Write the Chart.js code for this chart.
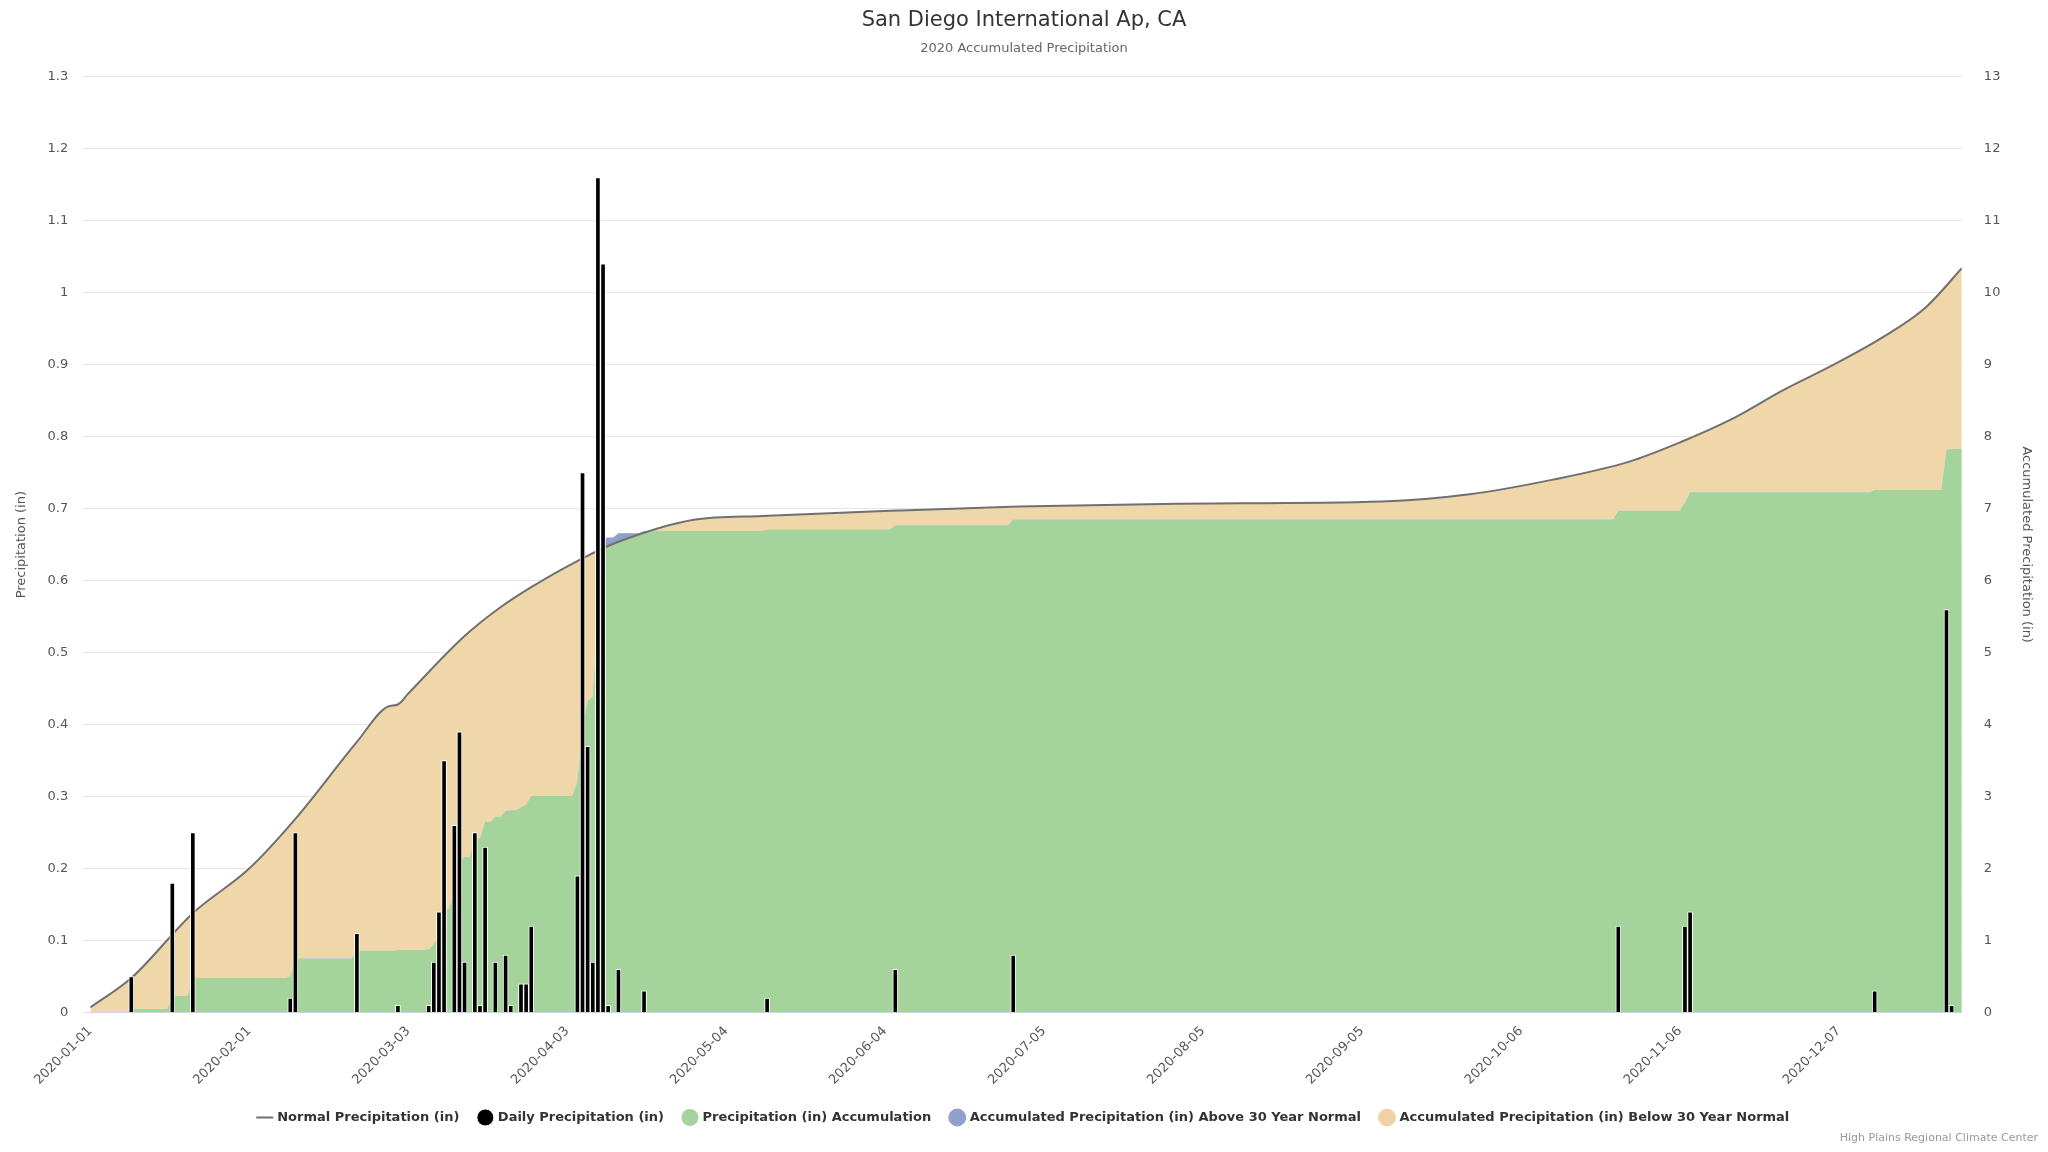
<!DOCTYPE html>
<html><head><meta charset="utf-8">
<script src="https://cdn.jsdelivr.net/npm/chart.js@4/dist/chart.umd.min.js"></script>
<style>html,body{margin:0;background:#fff}#w{width:2048px;height:1152px;position:relative}
#credit{position:absolute;right:10px;bottom:8px;font:11px "DejaVu Sans";color:#999}</style>
</head><body><div id="w"><canvas id="c" width="2048" height="1152"></canvas><div id="credit">High Plains Regional Climate Center</div></div>
<script>
const tickDays = [0,31,62,93,124,155,186,217,248,279,310,341];
const tickLabels = ["2020-01-01","2020-02-01","2020-03-03","2020-04-03","2020-05-04","2020-06-04","2020-07-05","2020-08-05","2020-09-05","2020-10-06","2020-11-06","2020-12-07"];
const rainDays = [8,16,20,39,40,52,60,66,67,68,69,71,72,73,75,76,77,79,81,82,84,85,86,95,96,97,98,99,100,101,103,108,132,157,180,298,311,312,348,362,363];
const rainVals = [0.05,0.18,0.25,0.02,0.25,0.11,0.01,0.01,0.07,0.14,0.35,0.26,0.39,0.07,0.25,0.01,0.23,0.07,0.08,0.01,0.04,0.04,0.12,0.19,0.75,0.37,0.07,1.16,1.04,0.01,0.06,0.03,0.02,0.06,0.08,0.12,0.12,0.14,0.03,0.56,0.01];
const normalDays = [0,8,20,31,40,52,58,60,62,73,80,86,96,103,118,131,156,181,212,252,269,285,300,310,320,330,340,350,358,365];
const normalVals = [0.07,0.48,1.38,2.0,2.69,3.76,4.25,4.28,4.43,5.23,5.63,5.91,6.31,6.54,6.85,6.9,6.97,7.03,7.07,7.1,7.2,7.4,7.65,7.92,8.24,8.64,9.0,9.4,9.8,10.34];

const bars = rainDays.map((d,i)=>({x:d,y:rainVals[i]}));
const normal = normalDays.map((d,i)=>({x:d,y:normalVals[i]}));
const accum = []; let s=0; const rmap={}; rainDays.forEach((d,i)=>rmap[d]=rainVals[i]);
for(let d=0; d<=365; d++){ s += (rmap[d]||0); accum.push({x:d,y:+s.toFixed(2)}); }

const F = '"DejaVu Sans", sans-serif';
Chart.defaults.font.family = F;
Chart.defaults.color = '#555';
new Chart(document.getElementById('c'),{
  data:{datasets:[
    {type:'line',label:'Normal Precipitation (in)',data:normal,yAxisID:'y2',borderColor:'#707070',borderWidth:2,pointRadius:0,cubicInterpolationMode:'monotone',
      fill:{target:2,above:'rgba(240,215,170,1)',below:'rgba(143,160,205,1)'},pointStyle:'line',order:2},
    {type:'bar',label:'Daily Precipitation (in)',data:bars,yAxisID:'y',backgroundColor:'#000',borderColor:'#fff',borderWidth:1,barThickness:5,pointStyle:'circle',order:0},
    {type:'line',label:'Precipitation (in) Accumulation',data:accum,yAxisID:'y2',borderWidth:0,borderColor:'rgba(0,0,0,0)',backgroundColor:'#a4d39b',pointRadius:0,fill:'origin',pointStyle:'circle',order:3},
    {type:'line',label:'Accumulated Precipitation (in) Above 30 Year Normal',data:[],backgroundColor:'#8fa0cd',borderColor:'#8fa0cd',pointStyle:'circle',yAxisID:'y2'},
    {type:'line',label:'Accumulated Precipitation (in) Below 30 Year Normal',data:[],backgroundColor:'#efd3a6',borderColor:'#efd3a6',pointStyle:'circle',yAxisID:'y2'}
  ]},
  options:{responsive:false,animation:false,
    layout:{padding:{left:10,right:10,top:0,bottom:18}},
    plugins:{
      title:{display:true,text:'San Diego International Ap, CA',color:'#333',font:{size:21,weight:'normal'},padding:{top:8,bottom:8}},
      subtitle:{display:true,text:'2020 Accumulated Precipitation',color:'#666',font:{size:13},padding:{bottom:20}},
      legend:{position:'bottom',labels:{usePointStyle:true,boxWidth:12,boxHeight:12,color:'#333',font:{size:13,weight:'bold'},padding:20,sort:(a,b)=>a.datasetIndex-b.datasetIndex}},
      tooltip:{enabled:false}
    },
    scales:{
      x:{type:'linear',min:0,max:365,offset:false,grid:{display:false},border:{color:'#ccd6eb'},
        afterBuildTicks:a=>{a.ticks=tickDays.map(v=>({value:v}));},
        ticks:{autoSkip:false,maxRotation:45,minRotation:45,font:{size:13},color:'#555',callback:v=>tickLabels[tickDays.indexOf(v)]}},
      y:{position:'left',min:0,max:1.3,grid:{color:'#e6e6e6'},border:{display:false},
        ticks:{stepSize:0.1,font:{size:13},padding:14,callback:v=>+v.toFixed(1)},
        title:{display:true,text:'Precipitation (in)',font:{size:13}}},
      y2:{position:'right',min:0,max:13,grid:{display:false},border:{display:false},
        ticks:{stepSize:1,font:{size:13},padding:14},
        title:{display:true,text:'Accumulated Precipitation (in)',font:{size:13}}}
    }
  }
});
</script></body></html>
